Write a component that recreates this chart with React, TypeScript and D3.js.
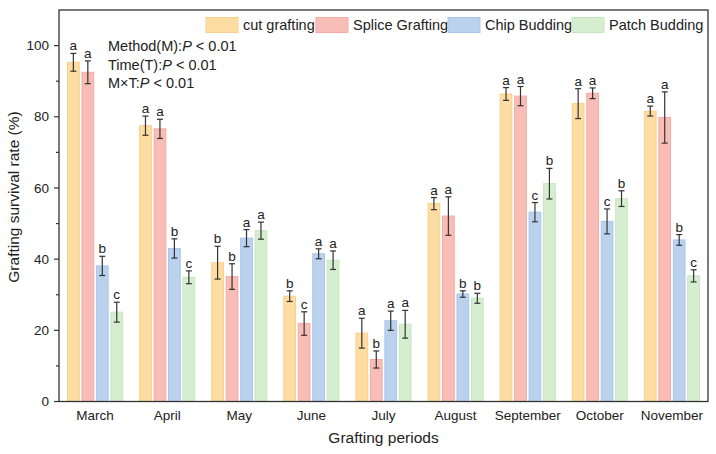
import React from 'react';
import * as d3 from 'd3';

const months = ['March', 'April', 'May', 'June', 'July', 'August', 'September', 'October', 'November'];
const methods = ['cut grafting', 'Splice Grafting', 'Chip Budding', 'Patch Budding'];

const cutMean = [95.3, 77.5, 39.0, 29.6, 19.2, 55.6, 86.4, 83.7, 81.6];
const cutErr = [2.5, 2.7, 4.6, 1.5, 4.2, 1.7, 1.8, 4.2, 1.4];
const cutSig = ['a', 'a', 'b', 'b', 'a', 'a', 'a', 'a', 'a'];

const spliceMean = [92.5, 76.6, 35.1, 21.9, 11.8, 52.1, 85.8, 86.6, 79.8];
const spliceErr = [3.2, 2.7, 3.6, 3.3, 2.4, 5.4, 2.7, 1.5, 7.2];
const spliceSig = ['a', 'a', 'b', 'c', 'b', 'a', 'a', 'a', 'a'];

const chipMean = [38.1, 43.0, 45.9, 41.5, 22.7, 30.2, 53.2, 50.6, 45.4];
const chipErr = [2.7, 2.7, 2.4, 1.4, 2.7, 0.9, 2.7, 3.5, 1.5];
const chipSig = ['b', 'b', 'a', 'a', 'a', 'b', 'c', 'c', 'b'];

const patchMean = [25.1, 34.9, 48.0, 39.7, 21.7, 29.0, 61.2, 57.0, 35.3];
const patchErr = [2.8, 1.8, 2.4, 2.6, 3.9, 1.4, 4.3, 2.2, 1.7];
const patchSig = ['c', 'c', 'a', 'a', 'a', 'b', 'b', 'b', 'c'];

const yTicks = [0, 20, 40, 60, 80, 100];
const yMinor = [10, 30, 50, 70, 90];

const fills = ['#FDDDA2', '#F9BDB7', '#BBD2EF', '#D6EED0'];
const strokes = ['#F8D08C', '#F5AAA3', '#A9C6EA', '#C6E6BE'];

const W = 716;
const H = 454;
const M = { left: 59, right: 708, top: 10, bottom: 401.5 };
const FONT = 'Liberation Sans, Arial, sans-serif';
const AXIS = '#333';

export default function App() {
  const means = [cutMean, spliceMean, chipMean, patchMean];
  const errs = [cutErr, spliceErr, chipErr, patchErr];
  const sigs = [cutSig, spliceSig, chipSig, patchSig];

  const x0 = d3.scaleBand<string>().domain(months).range([M.left, M.right]).paddingInner(0.222).paddingOuter(0.111);
  const x1 = d3.scaleBand<string>().domain(methods).range([0, x0.bandwidth()]).paddingInner(0.12);
  const y = d3.scaleLinear().domain([0, 110]).range([M.bottom, M.top]);

  const legendX = [206, 316, 448, 572];

  return (
    <svg width={W} height={H} style={{ position: 'absolute', left: 0, top: 0, background: '#fff' }} fontFamily={FONT}>
      {/* bars, error bars and significance letters */}
      {methods.map((m, si) => (
        <g key={m}>
          {months.map((mo, i) => {
            const bx = x0(mo)! + x1(m)!;
            const bw = x1.bandwidth();
            const cx = bx + bw / 2;
            const v = means[si][i];
            const e = errs[si][i];
            return (
              <g key={mo}>
                <rect x={bx + 0.5} y={y(v)} width={bw - 1} height={y(0) - y(v)} fill={fills[si]} stroke={strokes[si]} strokeWidth={1} />
                <line x1={cx} x2={cx} y1={y(v + e)} y2={y(v - e)} stroke={AXIS} strokeWidth={1.2} />
                <line x1={cx - 3} x2={cx + 3} y1={y(v + e)} y2={y(v + e)} stroke={AXIS} strokeWidth={1.2} />
                <line x1={cx - 3} x2={cx + 3} y1={y(v - e)} y2={y(v - e)} stroke={AXIS} strokeWidth={1.2} />
                <text x={cx} y={y(v + e) - 3} textAnchor="middle" fontSize={13.5} fill="#222">
                  {sigs[si][i]}
                </text>
              </g>
            );
          })}
        </g>
      ))}

      {/* frame */}
      <rect x={M.left} y={M.top} width={M.right - M.left} height={M.bottom - M.top} fill="none" stroke={AXIS} strokeWidth={1.3} />

      {/* y axis */}
      {yTicks.map((t) => (
        <g key={t}>
          <line x1={M.left - 5} x2={M.left} y1={y(t)} y2={y(t)} stroke={AXIS} strokeWidth={1.2} />
          <text x={M.left - 10} y={y(t)} dy="0.35em" textAnchor="end" fontSize={13.5} fill="#222">
            {t}
          </text>
        </g>
      ))}
      {yMinor.map((t) => (
        <line key={t} x1={M.left - 3} x2={M.left} y1={y(t)} y2={y(t)} stroke={AXIS} strokeWidth={1.2} />
      ))}
      <text transform="translate(14, 197) rotate(-90)" textAnchor="middle" dy="0.35em" fontSize={15.5} fill="#222">
        Grafting survival rate (%)
      </text>

      {/* x axis labels */}
      {months.map((mo) => (
        <text key={mo} x={x0(mo)! + x0.bandwidth() / 2} y={M.bottom + 14} dy="0.35em" textAnchor="middle" fontSize={13.5} fill="#222">
          {mo}
        </text>
      ))}
      <text x={(M.left + M.right) / 2} y={438} dy="0.35em" textAnchor="middle" fontSize={15.5} fill="#222">
        Grafting periods
      </text>

      {/* legend */}
      {methods.map((m, si) => (
        <g key={m}>
          <rect x={legendX[si]} y={17.5} width={32} height={15} fill={fills[si]} stroke={strokes[si]} strokeWidth={1} />
          <text x={legendX[si] + 37} y={25} dy="0.35em" fontSize={14.5} fill="#222">
            {m}
          </text>
        </g>
      ))}

      {/* ANOVA summary */}
      <g fontSize={14.5} fill="#222">
        <text x={108} y={51}>
          Method(M):<tspan fontStyle="italic">P</tspan> &lt; 0.01
        </text>
        <text x={108} y={70}>
          Time(T):<tspan fontStyle="italic">P</tspan> &lt; 0.01
        </text>
        <text x={108} y={88}>
          M×T:<tspan fontStyle="italic">P</tspan> &lt; 0.01
        </text>
      </g>
    </svg>
  );
}
